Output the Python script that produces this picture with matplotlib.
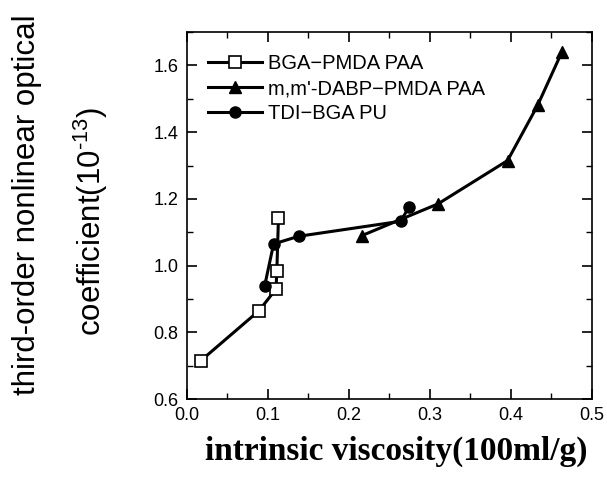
import matplotlib
matplotlib.use("Agg")
import matplotlib.pyplot as plt
from matplotlib.ticker import MultipleLocator

# BGA-PMDA PAA (open squares)
bga_x = [0.017, 0.089, 0.110, 0.111, 0.113]
bga_y = [0.715, 0.865, 0.930, 0.985, 1.142]

# m,m'-DABP-PMDA PAA (triangles)
dabp_x = [0.216, 0.310, 0.396, 0.433, 0.463]
dabp_y = [1.090, 1.185, 1.315, 1.480, 1.640]

# TDI-BGA PU (filled circles)
tdi_x = [0.096, 0.107, 0.138, 0.264, 0.274]
tdi_y = [0.940, 1.065, 1.088, 1.133, 1.175]

plt.rcParams['font.family'] = ['Liberation Sans', 'DejaVu Sans']
plt.rcParams['mathtext.fontset'] = 'custom'
plt.rcParams['mathtext.rm'] = 'Liberation Sans'

fig = plt.figure(figsize=(6.07, 4.78), dpi=100)
ax = fig.add_axes([0.308, 0.165, 0.667, 0.768])

ax.plot(bga_x, bga_y, color='black', lw=2.2, marker='s', ms=8,
        mfc='white', mec='black', mew=1.2, label="BGA\u2212PMDA PAA")
ax.plot(dabp_x, dabp_y, color='black', lw=2.2, marker='^', ms=9,
        label="m,m'-DABP\u2212PMDA PAA")
ax.plot(tdi_x, tdi_y, color='black', lw=2.2, marker='o', ms=8,
        label="TDI\u2212BGA PU")

ax.set_xlim(0, 0.5)
ax.set_ylim(0.6, 1.7)
ax.xaxis.set_minor_locator(MultipleLocator(0.05))
ax.yaxis.set_minor_locator(MultipleLocator(0.1))
ax.set_xticks([0.0, 0.1, 0.2, 0.3, 0.4, 0.5])
ax.set_xticklabels(["0.0", "0.1", "0.2", "0.3", "0.4", "0.5"])
ax.set_yticks([0.6, 0.8, 1.0, 1.2, 1.4, 1.6])
ax.set_yticklabels(["0.6", "0.8", "1.0", "1.2", "1.4", "1.6"])
ax.tick_params(which='both', direction='in', top=True, right=True,
               labelsize=13, colors='black', pad=6)
ax.tick_params(which='major', length=7, width=1.2)
ax.tick_params(which='minor', length=4, width=1)
for s in ax.spines.values():
    s.set_linewidth(1.2)

ax.legend(loc='upper left', bbox_to_anchor=(0.052, 0.94), frameon=False,
          fontsize=14.5, handlelength=2.7, handletextpad=0.3,
          labelspacing=0.3, borderaxespad=0, borderpad=0)

fig.text(0.044, 0.571, "third-order nonlinear optical", rotation=90,
         ha='center', va='center', fontsize=22.5)
fig.text(0.15, 0.536, "coefficient(10$^{\\mathrm{\u2010}13}$)", rotation=90,
         ha='center', va='center', fontsize=22.5)
fig.text(0.652, 0.055, "intrinsic viscosity(100ml/g)", ha='center',
         va='center', fontsize=24, fontweight='bold',
         family='Liberation Serif')

fig.savefig("out.png", dpi=100)
